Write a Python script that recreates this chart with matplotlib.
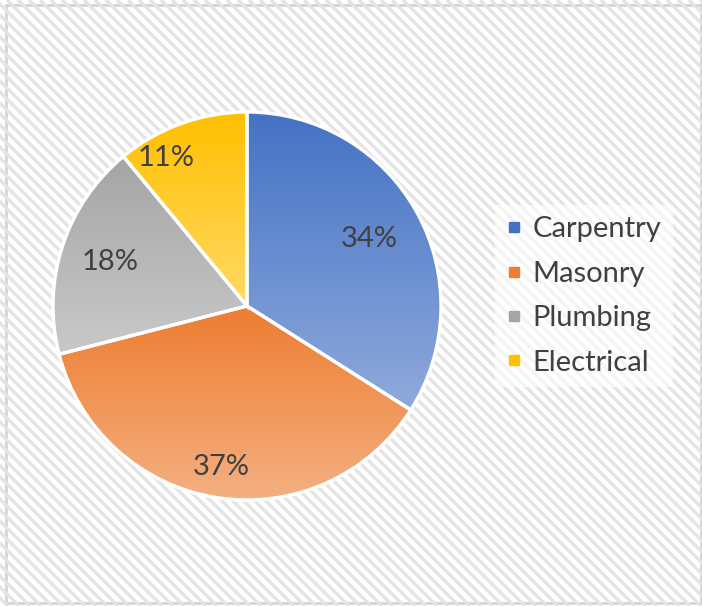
import numpy as np
import matplotlib.pyplot as plt
from matplotlib.colors import LinearSegmentedColormap
from matplotlib.lines import Line2D
from matplotlib.patches import Rectangle

# data
trades = ['Carpentry', 'Masonry', 'Plumbing', 'Electrical']
shares = [34, 37, 18, 11]
top_colors = ['#4472C4', '#ED7D31', '#A5A5A5', '#FFC000']
bottom_colors = ['#8FAADC', '#F4B183', '#C9C9C9', '#FFD966']
# label placement (radius fraction, angle shift in degrees)
label_dist = [0.72, 0.84, 0.74, 0.87]
label_shift = [0, 0, 0, 9]

plt.rcParams['font.family'] = ['Lato', 'DejaVu Sans']

fig = plt.figure(figsize=(7.02, 6.06), dpi=100)

# striped background with thin grey frame
bg = fig.add_axes([0, 0, 1, 1])
bg.set_xlim(0, 702)
bg.set_ylim(0, 606)
bg.axis('off')
for x0 in np.arange(-620, 720, 11):
    bg.plot([x0, x0 + 606], [606, 0], color='#E4E4E4', lw=2.4, solid_capstyle='butt')
bg.add_patch(Rectangle((0, 0), 702, 606, fill=False, ec='white', lw=10))
bg.add_patch(Rectangle((6, 3), 695, 598, fill=False, ec='#D4D4D4', lw=2))

r = 1.02
ax = fig.add_axes([(247 - 194 * r) / 702, (300 - 194 * r) / 606, 388 * r / 702, 388 * r / 606])
wedges, _ = ax.pie(shares, startangle=90, counterclock=False, colors=top_colors,
                   wedgeprops=dict(edgecolor='white', linewidth=2.4))

grad = np.linspace(0, 1, 256).reshape(-1, 1)
for w, c0, c1 in zip(wedges, top_colors, bottom_colors):
    ys = w.get_path().vertices[:, 1]
    cmap = LinearSegmentedColormap.from_list('g', [c1, c0])
    im = ax.imshow(grad, cmap=cmap, origin='lower', aspect='auto',
                   extent=[-1.05, 1.05, ys.min(), ys.max()], zorder=w.get_zorder())
    im.set_clip_path(w)
    w.set_zorder(w.get_zorder() + 0.5)
    w.set_facecolor('none')

for w, s, d, sh in zip(wedges, shares, label_dist, label_shift):
    ang = np.deg2rad((w.theta1 + w.theta2) / 2 + sh)
    ax.text(d * np.cos(ang), d * np.sin(ang), f'{s}%', ha='center', va='center',
            fontsize=21, color='#404040', zorder=5)
ax.set_xlim(-r, r)
ax.set_ylim(-r, r)
ax.set_aspect('equal')
ax.axis('off')

handles = [Line2D([], [], marker='s', ls='none', markersize=7.5, color=c) for c in top_colors]
leg = fig.legend(handles, trades, loc='center left', bbox_to_anchor=(480 / 702, 1 - 296 / 606),
                 fontsize=21, frameon=True, facecolor='white', edgecolor='none', framealpha=0.6,
                 handlelength=0.5, handletextpad=0.4, labelspacing=0.63, borderpad=0.4,
                 fancybox=False)
for t in leg.get_texts():
    t.set_color('#404040')

fig.savefig('out.png', dpi=100)
